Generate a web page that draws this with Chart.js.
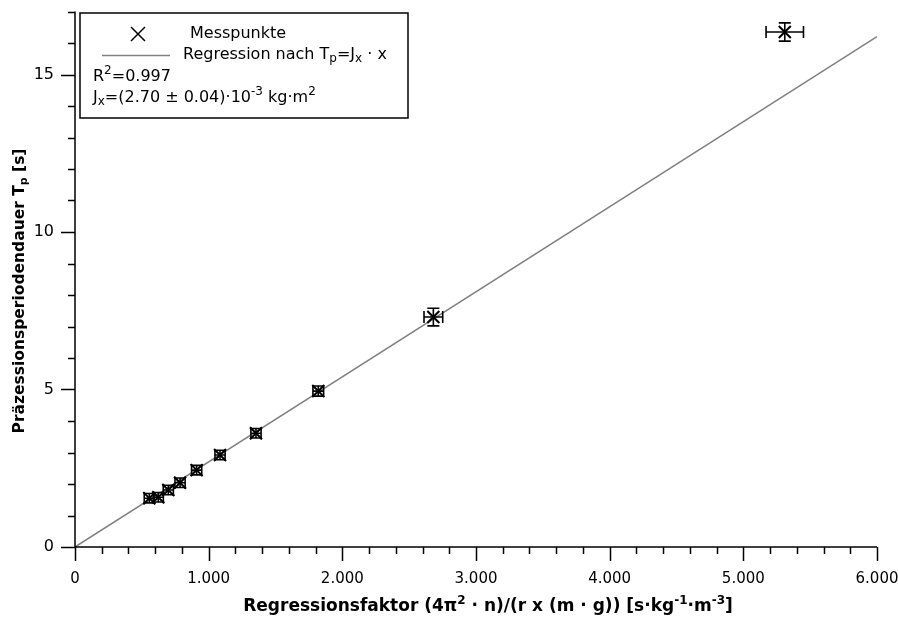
<!DOCTYPE html>
<html>
<head>
<meta charset="utf-8">
<script src="https://cdn.jsdelivr.net/npm/chart.js@4.4.1/dist/chart.umd.min.js"></script>
<style>
    html, body { margin: 0; padding: 0; background: #fff; }
</style>
</head>
<body>
<canvas id="grafico" width="898" height="619"></canvas>
<script>
// Messpunkte
const regFaktor = [556, 623, 698, 786, 910, 1085, 1354, 1820, 2681, 5310];
const periode = [1.55, 1.58, 1.81, 2.04, 2.44, 2.92, 3.61, 4.95, 7.30, 16.35];
const fehlerX = [38, 38, 38, 38, 38, 38, 38, 40, 70, 140];
const fehlerY = [0.15, 0.15, 0.15, 0.15, 0.15, 0.15, 0.15, 0.16, 0.28, 0.29];

// Regressionsgerade T_p = J_x * x
const geradeX = [0, 6000];
const geradeY = [0, 16.2];

// Achsen
const xMin = 0, xMax = 6000, xHaupt = 1000, xNeben = 200;
const yMin = 0, yMax = 17, yHaupt = 5, yNeben = 1;

const schrift = "DejaVu Sans";

// Texte mit Hoch-/Tiefstellung
const legendeZeilen = [
    [{ s: "Messpunkte" }],
    [{ s: "Regression nach T" }, { s: "p", sub: true }, { s: "=J" }, { s: "x", sub: true }, { s: " · x" }],
    [{ s: "R" }, { s: "2", sup: true }, { s: "=0.997" }],
    [{ s: "J" }, { s: "x", sub: true }, { s: "=(2.70 ± 0.04)·10" }, { s: "-3", sup: true }, { s: " kg·m" }, { s: "2", sup: true }]
];
const xTitel = [
    { s: "Regressionsfaktor (4π" }, { s: "2", sup: true }, { s: " · n)/(r x (m · g)) [s·kg" },
    { s: "-1", sup: true }, { s: "·m" }, { s: "-3", sup: true }, { s: "]" }
];
const yTitel = [{ s: "Präzessionsperiodendauer T" }, { s: "p", sub: true }, { s: " [s]" }];

function setzeFont(ctx, t, groesse, fett) {
    const klein = t.sub || t.sup;
    ctx.font = (fett ? "bold " : "") + (klein ? Math.round(groesse * 0.72) : groesse) + "px " + schrift;
}

function breite(ctx, teile, groesse, fett) {
    let w = 0;
    teile.forEach(t => { setzeFont(ctx, t, groesse, fett); w += ctx.measureText(t.s).width; });
    return w;
}

function textTeile(ctx, x, y, teile, groesse, fett) {
    teile.forEach(t => {
        setzeFont(ctx, t, groesse, fett);
        const dy = t.sub ? groesse * 0.25 : (t.sup ? -groesse * 0.38 : 0);
        ctx.fillText(t.s, x, y + dy);
        x += ctx.measureText(t.s).width;
    });
}

// Fehlerbalken, Achsen mit Haupt-/Nebenstrichen, Achsentitel und Legende
const zeichnenPlugin = {
    id: "zeichnen",
    afterDatasetsDraw(chart) {
        const ctx = chart.ctx;
        const xs = chart.scales.x;
        const ys = chart.scales.y;
        const area = chart.chartArea;

        ctx.save();
        ctx.strokeStyle = "#000";
        ctx.lineWidth = 1.6;
        const kappe = 6;

        // Fehlerbalken
        regFaktor.forEach((xv, i) => {
            const px = xs.getPixelForValue(xv);
            const py = ys.getPixelForValue(periode[i]);
            const x1 = xs.getPixelForValue(xv - fehlerX[i]);
            const x2 = xs.getPixelForValue(xv + fehlerX[i]);
            const y1 = ys.getPixelForValue(periode[i] - fehlerY[i]);
            const y2 = ys.getPixelForValue(periode[i] + fehlerY[i]);
            ctx.beginPath();
            ctx.moveTo(x1, py); ctx.lineTo(x2, py);
            ctx.moveTo(x1, py - kappe); ctx.lineTo(x1, py + kappe);
            ctx.moveTo(x2, py - kappe); ctx.lineTo(x2, py + kappe);
            ctx.moveTo(px, y1); ctx.lineTo(px, y2);
            ctx.moveTo(px - kappe, y1); ctx.lineTo(px + kappe, y1);
            ctx.moveTo(px - kappe, y2); ctx.lineTo(px + kappe, y2);
            ctx.stroke();
        });

        // Achsenlinien
        ctx.lineWidth = 1.5;
        ctx.beginPath();
        ctx.moveTo(area.left, area.bottom);
        ctx.lineTo(area.right, area.bottom);
        ctx.moveTo(area.left, area.bottom);
        ctx.lineTo(area.left, area.top);
        ctx.stroke();

        // Striche x
        ctx.beginPath();
        for (let v = xMin; v <= xMax; v += xNeben) {
            const p = Math.round(xs.getPixelForValue(v)) + 0.5;
            const lang = v % xHaupt === 0 ? 14 : 7;
            ctx.moveTo(p, area.bottom);
            ctx.lineTo(p, area.bottom + lang);
        }
        // Striche y
        for (let v = yMin; v <= yMax; v += yNeben) {
            const p = Math.round(ys.getPixelForValue(v)) + 0.5;
            const lang = v % yHaupt === 0 ? 14 : 7;
            ctx.moveTo(area.left, p);
            ctx.lineTo(area.left - lang, p);
        }
        ctx.stroke();

        // Achsentitel
        ctx.fillStyle = "#000";
        ctx.textBaseline = "middle";
        const wx = breite(ctx, xTitel, 17, true);
        textTeile(ctx, 488 - wx / 2, 607, xTitel, 17, true);

        const wy = breite(ctx, yTitel, 15.5, true);
        ctx.save();
        ctx.translate(20, 291);
        ctx.rotate(-Math.PI / 2);
        textTeile(ctx, -wy / 2, 0, yTitel, 15.5, true);
        ctx.restore();

        // Legende
        ctx.lineWidth = 1.5;
        ctx.strokeRect(80, 13, 328, 105);

        ctx.beginPath();
        ctx.moveTo(131, 27); ctx.lineTo(145, 41);
        ctx.moveTo(131, 41); ctx.lineTo(145, 27);
        ctx.stroke();

        ctx.strokeStyle = "#808080";
        ctx.beginPath();
        ctx.moveTo(102, 55.5); ctx.lineTo(170, 55.5);
        ctx.stroke();

        textTeile(ctx, 190, 34, legendeZeilen[0], 16, false);
        textTeile(ctx, 183, 55, legendeZeilen[1], 16, false);
        textTeile(ctx, 93, 77, legendeZeilen[2], 16, false);
        textTeile(ctx, 93, 98, legendeZeilen[3], 16, false);
        ctx.restore();
    }
};

const messPunkte = regFaktor.map((x, i) => ({ x: x, y: periode[i] }));
const gerade = geradeX.map((x, i) => ({ x: x, y: geradeY[i] }));

new Chart(document.getElementById("grafico"), {
    type: "scatter",
    data: {
        datasets: [
            {
                label: "Messpunkte",
                data: messPunkte,
                pointStyle: "crossRot",
                pointRadius: 8.5,
                pointBorderWidth: 2,
                borderColor: "#000",
                backgroundColor: "#000"
            },
            {
                type: "line",
                label: "Regression",
                data: gerade,
                borderColor: "#808080",
                borderWidth: 1.5,
                pointRadius: 0,
                fill: false
            }
        ]
    },
    options: {
        responsive: false,
        animation: false,
        devicePixelRatio: 1,
        layout: { padding: { top: 11.5, right: 21, left: 0, bottom: 0 } },
        plugins: {
            legend: { display: false },
            tooltip: { enabled: false }
        },
        scales: {
            x: {
                type: "linear",
                min: xMin,
                max: xMax,
                grid: { display: false, drawTicks: false },
                border: { display: false },
                afterFit: s => { s.height = 72; s.paddingRight = 0; s.paddingLeft = 0; },
                ticks: {
                    stepSize: xHaupt,
                    padding: 23,
                    color: "#000",
                    font: { family: schrift, size: 15 },
                    maxRotation: 0,
                    callback: v => v === 0 ? "0" : (v / 1000).toFixed(3)
                }
            },
            y: {
                type: "linear",
                min: yMin,
                max: yMax,
                grid: { display: false, drawTicks: false },
                border: { display: false },
                afterFit: s => { s.width = 75; s.paddingTop = 0; s.paddingBottom = 0; },
                ticks: {
                    stepSize: yHaupt,
                    padding: 21,
                    color: "#000",
                    font: { family: schrift, size: 16 },
                    callback: v => v % yHaupt === 0 ? String(v) : ""
                }
            }
        }
    },
    plugins: [zeichnenPlugin]
});
</script>
</body>
</html>
